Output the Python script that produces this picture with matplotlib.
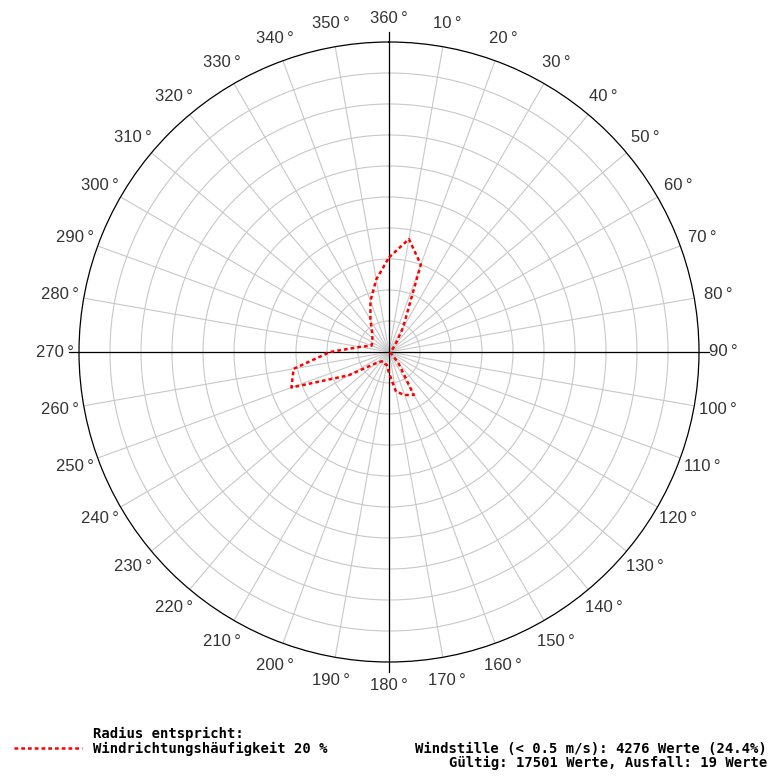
import numpy as np
import matplotlib.pyplot as plt

# Windrichtung (Grad) und Häufigkeit (%)
directions = list(range(0, 360, 10))
frequency = [6.1, 7.4, 6.0, 1.8, 0.65, 0.3, 0.15, 0.1, 0.1, 0.1,
             0.1, 0.1, 0.15, 0.25, 0.95, 3.2, 2.95, 2.6, 1.35, 0.85,
             0.8, 0.7, 0.8, 1.15, 3.0, 6.7, 6.25, 3.8, 1.9, 1.2,
             1.25, 1.4, 1.7, 2.4, 3.5, 4.75]
r_max = 20
ring_values = list(range(2, 20, 2))
angle_labels = ["360\u2009°"] + [f"{d}\u2009°" for d in directions[1:]]

legend_title = "Radius entspricht:"
legend_text = "Windrichtungshäufigkeit 20 %"
info_line1 = "Windstille (< 0.5 m/s): 4276 Werte (24.4%)"
info_line2 = "Gültig: 17501 Werte, Ausfall: 19 Werte"

W, H = 768, 776
fig = plt.figure(figsize=(W / 100, H / 100), dpi=100)
cx, cy, rad = 389, 352, 310
ax = fig.add_axes([(cx - rad) / W, 1 - (cy + rad) / H, 2 * rad / W, 2 * rad / H],
                  projection='polar')
ax.set_theta_zero_location('N')
ax.set_theta_direction(-1)
ax.set_ylim(0, r_max)

grid_col = '#c8c8c8'
ax.set_rgrids(ring_values, labels=[])
ax.set_thetagrids(directions, labels=[])
ax.grid(True, color=grid_col, lw=0.8)
ax.tick_params(axis='x', length=7, direction='inout', color=grid_col, width=0.8)
ax.spines['polar'].set_color('black')
ax.spines['polar'].set_linewidth(0.9)

# Hauptachsen (N, O, S, W) schwarz, etwas über den Rand hinaus
for d in (0, 90, 180, 270):
    ax.plot([np.deg2rad(d)] * 2, [0, r_max * 1.033], color='black', lw=0.9,
            clip_on=False, zorder=3)

# Winkelbeschriftung
for d, lab in zip(directions, angle_labels):
    ax.text(np.deg2rad(d), r_max * 1.077, lab, ha='center', va='center',
            fontsize=12, family='Liberation Sans', color='#333333',
            clip_on=False)

# Windrose
theta = np.deg2rad(directions + [directions[0]])
vals = frequency + [frequency[0]]
ax.plot(theta, vals, color='red', lw=1.8, linestyle=(0, (1.5, 1.2)), zorder=4)

# Legende / Info unten
mono = dict(family='DejaVu Sans Mono', fontweight='bold', fontsize=10,
            color='black', va='baseline')
fig.text(93 / W, 1 - 738 / H, legend_title, ha='left', **mono)
fig.text(93 / W, 1 - 753 / H, legend_text, ha='left', **mono)
fig.add_artist(plt.Line2D([14 / W, 82 / W], [1 - 748 / H, 1 - 748 / H],
                          color='red', lw=1.8, linestyle=(0, (1.5, 1.2))))
fig.text(767 / W, 1 - 753 / H, info_line1, ha='right', **mono)
fig.text(767 / W, 1 - 767 / H, info_line2, ha='right', **mono)

fig.savefig('out.png', dpi=100)
